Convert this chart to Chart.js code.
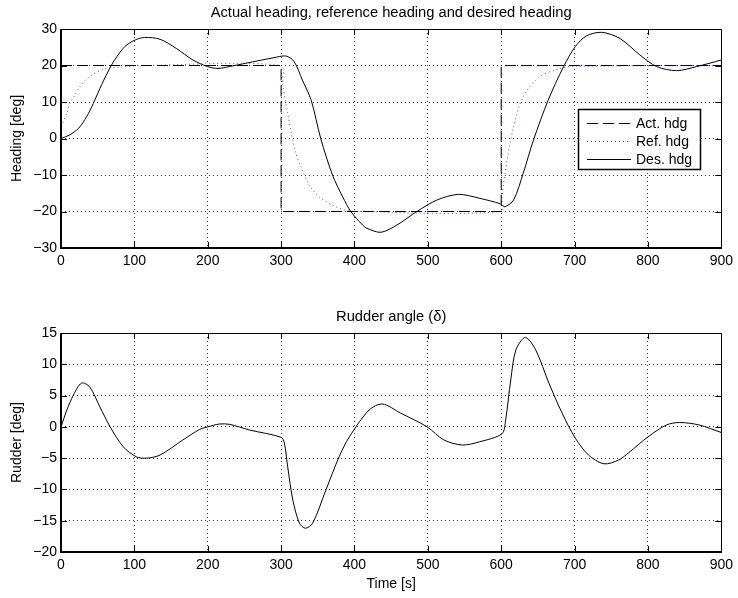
<!DOCTYPE html>
<html>
<head>
<meta charset="utf-8">
<title>Heading and rudder</title>
<script src="https://cdn.jsdelivr.net/npm/chart.js@4.4.1/dist/chart.umd.min.js"></script>
<style>
  html, body { margin: 0; padding: 0; background: #fff; }
  #wrap { position: relative; width: 738px; height: 598px; }
  #wrap canvas { position: absolute; left: 0; }
  #headingChart { top: 0; width: 738px; height: 304px; }
  #rudderChart { top: 304px; width: 738px; height: 294px; }
</style>
</head>
<body>
<div id="wrap">
  <canvas id="headingChart" width="738" height="304"></canvas>
  <canvas id="rudderChart" width="738" height="294"></canvas>
</div>
<script>
// tick labels
const timeTicks = [0, 100, 200, 300, 400, 500, 600, 700, 800, 900];
const headingTicks = [-30, -20, -10, 0, 10, 20, 30];
const rudderTicks = [-20, -15, -10, -5, 0, 5, 10, 15];

// actual heading (step commands)
const actTime = [0, 300, 300, 600, 600, 900];
const actHdg = [20, 20, -20, -20, 20, 20];

// reference heading (filtered)
const refTime = [0, 1, 8, 12, 19, 24, 33, 42, 58, 83, 110, 300, 302, 309, 314, 320, 327, 338, 352, 370, 386, 404,
                 600, 601, 608, 617, 630, 653, 680, 698, 900];
const refHdg = [0, 3.5, 6.9, 9.6, 11.9, 13.7, 16, 17.4, 19, 19.6, 20, 20, 15, 6.9, 1.4, -4, -7.7, -12.7, -16, -18.2, -19.5, -20,
                -20, -16, -5.9, 3.2, 11.5, 17, 19.2, 19.8, 20];

// desired heading
const desTime = [0, 12, 24, 35, 44, 53, 64, 73, 87, 101, 114, 135, 157, 180, 200, 214, 234, 261, 289, 307, 318, 329, 341,
                 354, 370, 384, 395, 411, 417, 436, 458, 485, 513, 542, 571, 599, 605, 617, 630, 644, 664, 685,
                 701, 716, 737, 762, 789, 812, 839, 866, 900];
const desHdg = [0, 1, 2.8, 6, 9.6, 13.7, 18.3, 21.5, 25.2, 27, 27.7, 27.2, 24.7, 21.5, 19.7, 19.2, 19.9, 21, 22.1, 22.6, 21, 16, 10.5,
                0, -10, -16, -20, -23.7, -24.6, -25.7, -23.7, -20, -16.8, -15.3, -16.4, -17.9, -18.7, -16.8, -9.5, -0.4, 10.5, 19.7,
                25.2, 28.1, 29.1, 27.4, 22.9, 19.7, 18.6, 19.7, 21.5];

// rudder angle
const rudTime = [0, 8, 17, 28, 39, 53, 67, 85, 103, 117, 135, 166, 189, 200, 216, 230, 257, 300, 304.5, 309, 316, 325, 333,
                 343, 361, 379, 393, 420, 438, 463, 499, 522, 547, 570, 601, 606, 613, 620, 633, 647, 665, 683, 701,
                 719, 740, 760, 774, 800, 825, 843, 870, 900];
const rudAngle = [0, 2.7, 5.1, 7, 6.4, 3.2, 0, -3.2, -4.8, -5, -4.5, -2.1, -0.4, 0, 0.46, 0.4, -0.5, -1.67, -2.6, -6.4, -11.7, -15.4, -16.2,
                  -15.4, -10.1, -4.8, -1.6, 2.7, 3.65, 2.2, 0, -2.1, -2.9, -2.4, -1.1, 1.1, 7.5, 12.3, 14.3, 12.3, 7, 2.2, -1.8,
                  -4.5, -5.9, -5.3, -4.1, -1.6, 0.3, 0.7, 0.3, -0.9];

const toPoints = (xs, ys) => xs.map((x, i) => ({x: x, y: ys[i]}));
const minus = v => String(v).replace('-', '\u2212');

Chart.defaults.font.family = '"Liberation Sans", Arial, Helvetica, sans-serif';
Chart.defaults.font.size = 14;
Chart.defaults.color = '#000';

// axes frame with inward tick marks, drawn over the lines
const axesBox = {
  id: 'axesBox',
  afterDatasetsDraw(chart) {
    const {ctx, chartArea: a, scales: {x, y}} = chart;
    ctx.save();
    ctx.strokeStyle = '#000';
    ctx.lineWidth = 1;
    ctx.beginPath();
    x.ticks.forEach(t => {
      const px = Math.round(x.getPixelForValue(t.value)) + 0.5;
      ctx.moveTo(px, a.bottom); ctx.lineTo(px, a.bottom - 6);
      ctx.moveTo(px, a.top); ctx.lineTo(px, a.top + 6);
    });
    y.ticks.forEach(t => {
      const py = Math.round(y.getPixelForValue(t.value)) + 0.5;
      ctx.moveTo(a.left, py); ctx.lineTo(a.left + 6, py);
      ctx.moveTo(a.right, py); ctx.lineTo(a.right - 6, py);
    });
    ctx.stroke();
    ctx.strokeRect(Math.round(a.left) + 0.5, Math.round(a.top) + 0.5,
                   Math.round(a.width), Math.round(a.height));
    ctx.lineWidth = 2;
    ctx.beginPath();
    ctx.moveTo(Math.round(a.left), Math.round(a.top));
    ctx.lineTo(Math.round(a.left), Math.round(a.bottom));
    ctx.lineTo(Math.round(a.right) + 1, Math.round(a.bottom));
    ctx.stroke();
    ctx.restore();
  }
};

// boxed legend inside the heading plot
const boxLegend = {
  id: 'boxLegend',
  afterDraw(chart) {
    const {ctx, chartArea: a} = chart;
    const left = Math.round(a.right) - 143;
    const top = Math.round(a.top) + 80;
    ctx.save();
    ctx.fillStyle = '#fff';
    ctx.fillRect(left, top, 122, 60);
    ctx.strokeStyle = '#000';
    ctx.lineWidth = 1.5;
    ctx.strokeRect(left + 0.5, top + 0.5, 122, 60);
    ctx.font = '14px "Liberation Sans", Arial, sans-serif';
    ctx.textBaseline = 'middle';
    chart.data.datasets.forEach((ds, i) => {
      const yy = top + 14 + i * 18;
      ctx.beginPath();
      ctx.setLineDash(ds.borderDash || []);
      ctx.strokeStyle = ds.borderColor;
      ctx.lineWidth = ds.borderWidth;
      ctx.moveTo(left + 9, yy + 0.5);
      ctx.lineTo(left + 53, yy + 0.5);
      ctx.stroke();
      ctx.setLineDash([]);
      ctx.fillStyle = '#000';
      ctx.fillText(ds.label, left + 58, yy + 1);
    });
    ctx.restore();
  }
};

function makeOptions(title, yTicks, yTitle, xTitle, xAxisHeight) {
  return {
    responsive: false,
    animation: false,
    events: [],
    layout: { padding: { left: 0, right: 15, top: 0, bottom: 0 } },
    elements: { point: { radius: 0 } },
    plugins: {
      legend: { display: false },
      tooltip: { enabled: false },
      title: {
        display: true,
        text: title,
        fullSize: false,
        font: { size: 14.7, weight: 'normal' },
        padding: { top: 4, bottom: 7.4 }
      }
    },
    scales: {
      x: {
        type: 'linear',
        min: timeTicks[0],
        max: timeTicks[timeTicks.length - 1],
        afterBuildTicks: s => { s.ticks = timeTicks.map(v => ({value: v})); },
        afterFit: s => { s.height = xAxisHeight; },
        ticks: { padding: 5, maxRotation: 0, autoSkip: false, callback: minus },
        grid: { color: 'rgba(0,0,0,0.8)', drawTicks: false },
        border: { display: false, dash: [1, 3] },
        title: { display: !!xTitle, text: xTitle, padding: { top: 0, bottom: 5 } }
      },
      y: {
        type: 'linear',
        min: yTicks[0],
        max: yTicks[yTicks.length - 1],
        afterBuildTicks: s => { s.ticks = yTicks.map(v => ({value: v})); },
        afterFit: s => { s.width = 61; },
        ticks: { padding: 4, autoSkip: false, callback: minus },
        grid: { color: 'rgba(0,0,0,0.8)', drawTicks: false },
        border: { display: false, dash: [1, 3] },
        title: { display: true, text: yTitle, padding: { top: 9, bottom: 0 } }
      }
    }
  };
}

new Chart(document.getElementById('headingChart'), {
  type: 'line',
  data: {
    datasets: [
      {
        label: 'Act. hdg',
        data: toPoints(actTime, actHdg),
        borderColor: '#000',
        borderWidth: 1,
        borderDash: [11, 5],
        tension: 0
      },
      {
        label: 'Ref. hdg',
        data: toPoints(refTime, refHdg),
        borderColor: 'rgb(70,70,255)',
        borderWidth: 1,
        borderDash: [1, 3],
        tension: 0.3
      },
      {
        label: 'Des. hdg',
        data: toPoints(desTime, desHdg),
        borderColor: '#000',
        borderWidth: 1,
        tension: 0.3
      }
    ]
  },
  options: makeOptions('Actual heading, reference heading and desired heading',
                       headingTicks, 'Heading [deg]', '', 56),
  plugins: [axesBox, boxLegend]
});

new Chart(document.getElementById('rudderChart'), {
  type: 'line',
  data: {
    datasets: [
      {
        label: 'Rudder',
        data: toPoints(rudTime, rudAngle),
        borderColor: '#000',
        borderWidth: 1,
        tension: 0.3
      }
    ]
  },
  options: makeOptions('Rudder angle (\u03b4)', rudderTicks, 'Rudder [deg]', 'Time [s]', 46),
  plugins: [axesBox]
});
</script>
</body>
</html>
